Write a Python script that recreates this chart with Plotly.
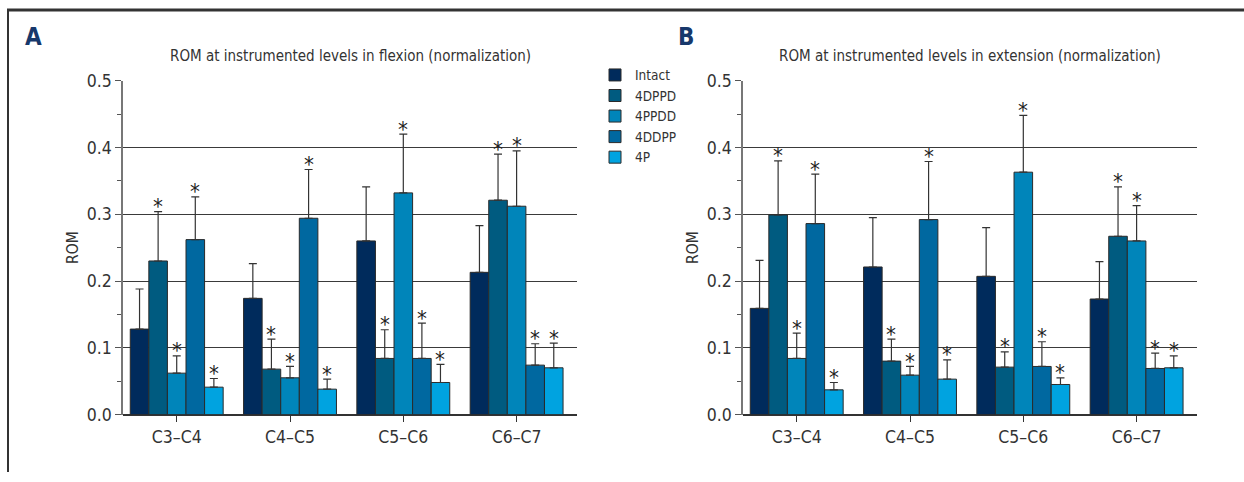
import plotly.graph_objects as go

categories = ["C3–C4", "C4–C5", "C5–C6", "C6–C7"]
series_names = ["Intact", "4DPPD", "4PPDD", "4DDPP", "4P"]
series_colors = ["#002b5c", "#005b80", "#0085ba", "#0068a0", "#00a3e0"]
significant = [False, True, True, True, True]

# Panel A: flexion (mean, upper error-bar end)
flex_intact = [0.128, 0.174, 0.260, 0.213]
flex_4dppd = [0.230, 0.068, 0.084, 0.321]
flex_4ppdd = [0.062, 0.055, 0.332, 0.312]
flex_4ddpp = [0.262, 0.294, 0.084, 0.074]
flex_4p = [0.041, 0.038, 0.048, 0.070]

flex_intact_top = [0.188, 0.226, 0.341, 0.283]
flex_4dppd_top = [0.304, 0.113, 0.127, 0.390]
flex_4ppdd_top = [0.088, 0.072, 0.420, 0.395]
flex_4ddpp_top = [0.326, 0.367, 0.137, 0.106]
flex_4p_top = [0.054, 0.053, 0.075, 0.107]

# Panel B: extension
ext_intact = [0.159, 0.221, 0.207, 0.173]
ext_4dppd = [0.299, 0.080, 0.071, 0.267]
ext_4ppdd = [0.084, 0.059, 0.363, 0.260]
ext_4ddpp = [0.286, 0.292, 0.072, 0.069]
ext_4p = [0.037, 0.053, 0.045, 0.070]

ext_intact_top = [0.231, 0.295, 0.280, 0.229]
ext_4dppd_top = [0.380, 0.113, 0.094, 0.341]
ext_4ppdd_top = [0.122, 0.072, 0.448, 0.313]
ext_4ddpp_top = [0.360, 0.379, 0.109, 0.092]
ext_4p_top = [0.048, 0.082, 0.055, 0.088]

panels = [
    dict(vals=[flex_intact, flex_4dppd, flex_4ppdd, flex_4ddpp, flex_4p],
         tops=[flex_intact_top, flex_4dppd_top, flex_4ppdd_top, flex_4ddpp_top, flex_4p_top],
         xa="x", ya="y", title="ROM at instrumented levels in flexion (normalization)", label="A"),
    dict(vals=[ext_intact, ext_4dppd, ext_4ppdd, ext_4ddpp, ext_4p],
         tops=[ext_intact_top, ext_4dppd_top, ext_4ppdd_top, ext_4ddpp_top, ext_4p_top],
         xa="x2", ya="y2", title="ROM at instrumented levels in extension (normalization)", label="B"),
]

FONT = "DejaVu Sans Condensed, Liberation Sans Narrow, sans-serif"
W, H = 1244, 482
BARGAP = 0.18
nser = len(series_names)
barw = (1 - BARGAP) / nser
xpos = list(range(len(categories)))

fig = go.Figure()
annotations = []
for p_i, p in enumerate(panels):
    for j, name in enumerate(series_names):
        v = p["vals"][j]
        t = p["tops"][j]
        fig.add_trace(go.Bar(
            x=xpos, y=v, name=name, legendgroup=name, showlegend=(p_i == 0),
            marker=dict(color=series_colors[j], line=dict(color="#2a2a2a", width=1)),
            error_y=dict(type="data", symmetric=False,
                         array=[tt - vv for tt, vv in zip(t, v)],
                         arrayminus=[0] * len(v),
                         color="#333333", thickness=1.2, width=4),
            xaxis=p["xa"], yaxis=p["ya"],
        ))
        if significant[j]:
            for i in range(len(categories)):
                annotations.append(dict(
                    x=xpos[i] + (j - (nser - 1) / 2) * barw, y=t[i],
                    xref=p["xa"], yref=p["ya"], text="*", showarrow=False,
                    yanchor="middle", yshift=5,
                    font=dict(family=FONT, size=22, color="#222222"),
                ))

# layout geometry, measured on the reference picture (pixels)
xA0, xA1 = 123, 577
xB0, xB1 = 743, 1197
y_top, y_bot = 80, 413.3

def px(x):
    return x / W

def py(y):
    # vertical correction measured from earlier renders
    ys = (y - 9.4) / 0.957
    return 1 - ys / H

xrange = [-0.474, 3.533]
common_x = dict(range=xrange, tickvals=xpos, ticktext=categories, showgrid=False,
                zeroline=False, showline=False, ticks="outside", ticklen=6,
                tickcolor="#333333", tickfont=dict(family=FONT, size=17.5, color="#333333"))
common_y = dict(range=[0, 0.5], tickvals=[0, 0.1, 0.2, 0.3, 0.4, 0.5],
                ticktext=["0.0", "0.1", "0.2", "0.3", "0.4", "0.5"],
                showgrid=True, gridcolor="#3a3a3a", gridwidth=1,
                zeroline=True, zerolinecolor="#333333", zerolinewidth=1.5,
                showline=True, linecolor="#777777", linewidth=1.5,
                ticks="outside", ticklen=6, tickcolor="#555555",
                minor=dict(tickvals=[0.05, 0.15, 0.25, 0.35, 0.45], ticks="outside",
                           ticklen=4, tickcolor="#555555", showgrid=False),
                tickfont=dict(family=FONT, size=17.5, color="#333333"),
                title=dict(text="ROM", font=dict(family=FONT, size=15.5, color="#333333"), standoff=4))

fig.update_layout(
    xaxis=dict(domain=[px(xA0), px(xA1)], anchor="y", **common_x),
    yaxis=dict(domain=[py(y_bot), py(y_top)], anchor="x", **common_y),
    xaxis2=dict(domain=[px(xB0), px(xB1)], anchor="y2", **common_x),
    yaxis2=dict(domain=[py(y_bot), py(y_top)], anchor="x2", **common_y),
)

for p_i, p in enumerate(panels):
    x0, x1 = (xA0, xA1) if p_i == 0 else (xB0, xB1)
    annotations.append(dict(x=px((x0 + x1) / 2), y=py(55), xref="paper", yref="paper",
                            text=p["title"], showarrow=False, xanchor="center", yanchor="middle",
                            font=dict(family=FONT, size=15, color="#333333")))
    annotations.append(dict(x=px(33 if p_i == 0 else 686), y=py(36), xref="paper", yref="paper",
                            text="<b>" + p["label"] + "</b>", showarrow=False,
                            xanchor="center", yanchor="middle",
                            font=dict(family=FONT, size=24, color="#17386b")))

shapes = [
    dict(type="line", xref="paper", yref="paper", x0=px(7), x1=1, y0=1, y1=1,
         line=dict(color="#333333", width=3)),
    dict(type="line", xref="paper", yref="paper", x0=px(8), x1=px(8), y0=1, y1=0,
         line=dict(color="#333333", width=2)),
]

fig.update_layout(
    width=W, height=H,
    margin=dict(l=0, r=0, t=0, b=0),
    paper_bgcolor="white", plot_bgcolor="white",
    barmode="group", bargap=BARGAP, bargroupgap=0,
    font=dict(family=FONT, color="#333333"),
    annotations=annotations, shapes=shapes,
    legend=dict(x=px(595), y=py(59), xanchor="left", yanchor="top",
                font=dict(family=FONT, size=13.5, color="#333333"),
                bgcolor="rgba(0,0,0,0)", tracegroupgap=0, itemwidth=30),
)

fig.write_html("out.html", config={"displayModeBar": False},
               post_script="document.body.style.margin='0';document.body.style.overflow='hidden';")
